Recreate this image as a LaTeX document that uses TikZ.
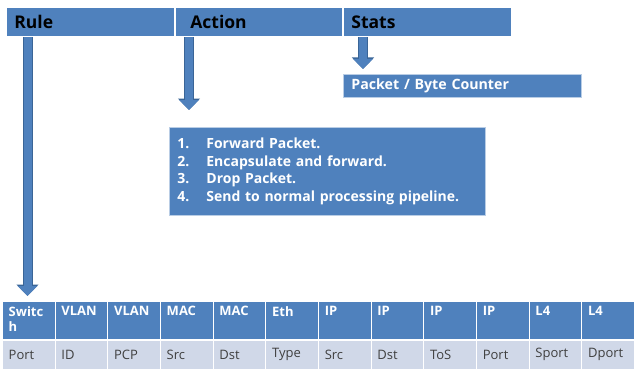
\documentclass[tikz,border=0pt]{standalone}
\usepackage{fontspec}
\setmainfont{Open Sans}
\usepackage{xcolor}
\usetikzlibrary{arrows.meta}

\definecolor{boxblue}{HTML}{4F81BD}
\definecolor{edgeblue}{HTML}{3A6597}
\definecolor{cellgray}{HTML}{D0D8E8}
\definecolor{celltext}{HTML}{3F3F3F}

\tikzset{
  barbox/.style={fill=boxblue, draw=white, line width=0.8pt, anchor=north west,
    minimum height=29pt, inner xsep=8pt, align=left, text=black,
    font=\fontsize{17.5}{20}\selectfont\bfseries},
  listbox/.style={fill=boxblue, draw=white!60!boxblue, line width=0.8pt, anchor=north west,
    text=white, align=left, inner xsep=8pt,
    font=\fontsize{14}{17.7}\selectfont\bfseries},
  headcell/.style={fill=boxblue, draw=white, line width=0.8pt, anchor=north west,
    minimum width=52.67pt, minimum height=38pt, inner xsep=6pt, text=white,
    font=\fontsize{13}{15.5}\selectfont\bfseries},
  subcell/.style={fill=cellgray, draw=white, line width=0.8pt, anchor=north west,
    minimum width=52.67pt, minimum height=29pt, inner xsep=6.33pt, text width=40pt,
    align=left, text=celltext, font=\fontsize{13}{15.5}\selectfont},
  fat/.style={line width=8pt, draw=boxblue, -{Triangle[width=19pt,length=10pt]},
    preaction={draw=edgeblue, line width=10pt, -{Triangle[width=21.5pt,length=11.5pt]}}}
}

\begin{document}
\begin{tikzpicture}[x=1pt,y=-1pt]
    \useasboundingbox (0,0) rectangle (634,369);

    % top bar
    \node[barbox, text width=152pt] (rule) at (6,7) {Rule};
    \node[barbox, text width=151pt] (action) at (175,7) {\hspace{7pt}Action};
    \node[barbox, text width=152pt] (stats) at (343,7) {Stats};

    % boxes below
    \node[listbox, anchor=north west, minimum width=238pt, minimum height=23pt,
      text width=222pt, inner xsep=8pt, font=\fontsize{14.2}{17}\selectfont\bfseries]
      (counter) at (343,74) {Packet / Byte Counter};
    \node[listbox, minimum height=88pt, text width=300pt] (actions) at (169,127)
      {\makebox[29pt][l]{1.}Forward Packet.\\
       \makebox[29pt][l]{2.}Encapsulate and forward.\\
       \makebox[29pt][l]{3.}Drop Packet.\\
       \makebox[29pt][l]{4.}Send to normal processing pipeline.};

    % match fields
    \foreach \hd/\sub [count=\i from 0] in {{Switc\\h}/Port, VLAN/ID, VLAN/PCP,
        MAC/Src, MAC/Dst, Eth/Type, IP/Src, IP/Dst, IP/ToS, IP/Port, L4/Sport, L4/Dport}{
      \node[headcell] (hd\i) at ({2+\i*52.67},301) {\parbox[t][28pt][t]{40pt}{\raggedright\hd}};
      \node[subcell] (sub\i) at (hd\i.south west) {\sub};
    }

    % arrows
    \coordinate (ruleend) at (27.5,296);
    \coordinate (actionend) at (189,110);
    \coordinate (statsend) at (363,69);
    \draw[fat] (rule.south -| ruleend) -- (ruleend);
    \draw[fat] (action.south -| actionend) -- (actionend);
    \draw[fat] (stats.south -| statsend) -- (statsend);

\end{tikzpicture}
\end{document}
